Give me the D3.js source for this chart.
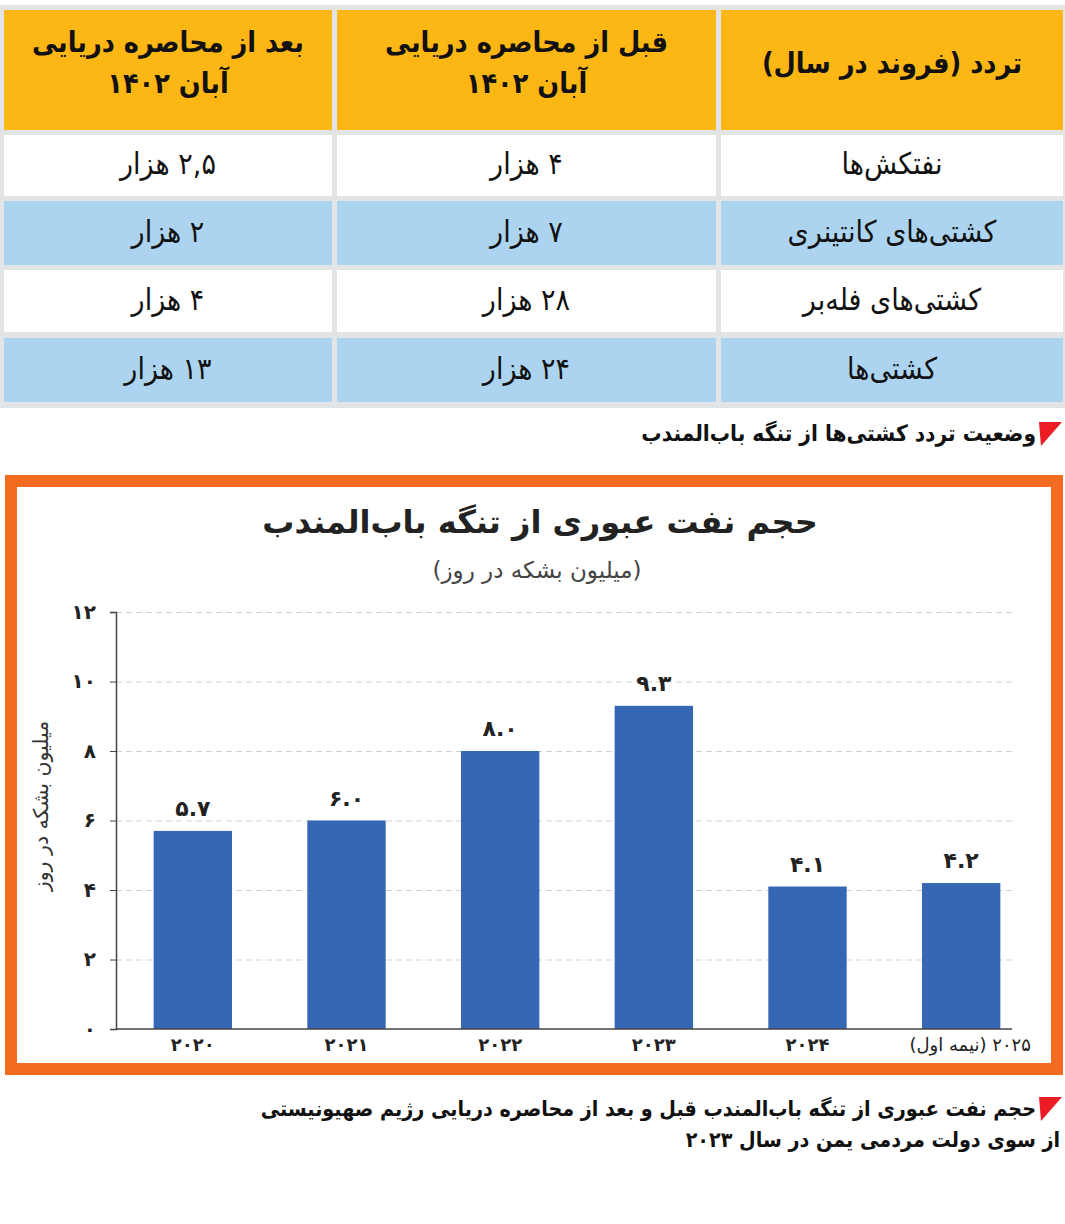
<!DOCTYPE html>
<html lang="fa">
<head>
  <meta charset="UTF-8" />
  <title>تنگه باب‌المندب</title>
  <style>
    body {
      margin: 0;
      background: #fff;
    }
    svg {
      display: block;
    }
    .tbl text {
      font-family: 'DejaVu Sans Condensed', 'DejaVu Sans', sans-serif;
      fill: #111;
    }
    .caption {
      font-family: 'DejaVu Sans Condensed', 'DejaVu Sans', sans-serif;
      font-weight: bold;
      fill: #111;
    }
    .chart text {
      font-family: 'DejaVu Sans', sans-serif;
    }
    .grid line {
      stroke: #d3d3d3;
      stroke-dasharray: 6,4;
    }
    .grid path {
      display: none;
    }
    .axis path, .axis line {
      stroke: #444;
    }
    .axis text {
      fill: #222;
      font-weight: bold;
    }
  </style>
</head>
<body>
  <svg width="1065" height="1224"></svg>

  <script src="https://d3js.org/d3.v7.min.js"></script>
  <script>
    // --- table data
    const headerLines = [
      ["تردد (فروند در سال)"],
      ["قبل از محاصره دریایی", "آبان ۱۴۰۲"],
      ["بعد از محاصره دریایی", "آبان ۱۴۰۲"]
    ];
    const vesselTypes = ["نفتکش‌ها", "کشتی‌های کانتینری", "کشتی‌های فله‌بر", "کشتی‌ها"];
    const beforeSiege = ["۴ هزار", "۷ هزار", "۲۸ هزار", "۲۴ هزار"];
    const afterSiege = ["۲,۵ هزار", "۲ هزار", "۴ هزار", "۱۳ هزار"];
    const tableCaption = "وضعیت تردد کشتی‌ها از تنگه باب‌المندب";

    // --- chart data
    const chartTitle = "حجم نفت عبوری از تنگه باب‌المندب";
    const chartSubtitle = "(میلیون بشکه در روز)";
    const yAxisTitle = "میلیون بشکه در روز";
    const years = ["2020", "2021", "2022", "2023", "2024", "2025"];
    const yearLabels = ["۲۰۲۰", "۲۰۲۱", "۲۰۲۲", "۲۰۲۳", "۲۰۲۴", "۲۰۲۵ (نیمه اول)"];
    const oilFlow = [5.7, 6.0, 8.0, 9.3, 4.1, 4.2];
    const yTicks = [0, 2, 4, 6, 8, 10, 12];
    const bottomCaption = [
      "حجم نفت عبوری از تنگه باب‌المندب قبل و بعد از محاصره دریایی رژیم صهیونیستی",
      "از سوی دولت مردمی یمن در سال ۲۰۲۳"
    ];

    // latin digits -> persian digits
    const fa = s => String(s).replace(/\d/g, d => "۰۱۲۳۴۵۶۷۸۹"[d]);

    const svg = d3.select("svg");

    // ================= table =================
    const tbl = svg.append("g").attr("class", "tbl");
    tbl.append("rect").attr("x", 0).attr("y", 5).attr("width", 1065).attr("height", 403).attr("fill", "#e3e4e6");

    // columns right to left, like the page
    const colX = [[721, 1063], [337, 716], [4, 332]];
    const rowY = [[10, 130], [135, 196], [201, 265], [270, 332], [338, 402]];
    const rowFill = ["#fdb714", "#ffffff", "#acd4f0", "#ffffff", "#acd4f0"];
    const columns = [vesselTypes, beforeSiege, afterSiege];

    rowY.forEach((r, ri) => {
      colX.forEach((c, ci) => {
        tbl.append("rect")
          .attr("x", c[0]).attr("y", r[0])
          .attr("width", c[1] - c[0]).attr("height", r[1] - r[0])
          .attr("fill", rowFill[ri]);
        const cx = (c[0] + c[1]) / 2, cy = (r[0] + r[1]) / 2;
        if (ri === 0) {
          const lines = headerLines[ci];
          lines.forEach((ln, li) => {
            tbl.append("text")
              .attr("x", cx)
              .attr("y", cy - 7 + (li - (lines.length - 1) / 2) * 41)
              .attr("dy", "0.35em")
              .attr("direction", "rtl")
              .attr("text-anchor", "middle")
              .style("font-size", "28.5px").style("font-weight", "bold")
              .text(ln);
          });
        } else {
          tbl.append("text")
            .attr("x", cx).attr("y", cy - 2)
            .attr("dy", "0.35em")
            .attr("direction", "rtl")
            .attr("text-anchor", "middle")
            .style("font-size", "30px")
            .text(columns[ci][ri - 1]);
        }
      });
    });

    // red marker + caption
    function caption(yTop, lines, lineGap, size) {
      svg.append("path")
        .attr("d", `M1039,${yTop} L1062,${yTop} L1041,${yTop + 24} Z`)
        .attr("fill", "#ec1c24");
      lines.forEach((ln, i) => {
        svg.append("text").attr("class", "caption")
          .attr("x", i === 0 ? 1036 : 1060)
          .attr("y", yTop + 19 + i * lineGap)
          .attr("direction", "rtl")
          .attr("text-anchor", "start")
          .style("font-size", size + "px")
          .text(ln);
      });
    }
    caption(422, [tableCaption], 0, 22.5);

    // ================= chart =================
    svg.append("rect")
      .attr("x", 11).attr("y", 481).attr("width", 1046).attr("height", 588)
      .attr("fill", "#fff").attr("stroke", "#f26b21").attr("stroke-width", 12);

    const g = svg.append("g").attr("class", "chart");

    g.append("text")
      .attr("x", 540).attr("y", 533)
      .attr("direction", "rtl").attr("text-anchor", "middle")
      .style("font-size", "32px").style("font-weight", "bold").style("fill", "#222")
      .text(chartTitle);
    g.append("text")
      .attr("x", 537).attr("y", 578)
      .attr("direction", "rtl").attr("text-anchor", "middle")
      .style("font-size", "23px").style("fill", "#444")
      .text(chartSubtitle);

    const plotLeft = 116, plotRight = 1012;
    const x = d3.scaleBand().domain(years).range([116, 1038]).paddingInner(0.49).paddingOuter(0.245);
    const y = d3.scaleLinear().domain([0, 12]).range([1029, 612]);

    // gridlines
    g.append("g").attr("class", "grid")
      .attr("transform", `translate(${plotLeft},0)`)
      .call(d3.axisLeft(y).tickValues(yTicks.filter(t => t > 0)).tickSize(-(plotRight - plotLeft)).tickFormat(""));

    // bars
    g.selectAll(".bar").data(oilFlow)
      .join("rect").attr("class", "bar")
      .attr("x", (d, i) => x(years[i]))
      .attr("y", d => y(d))
      .attr("width", x.bandwidth())
      .attr("height", d => y(0) - y(d))
      .attr("fill", "#3567b5");

    // value labels
    g.selectAll(".val").data(oilFlow)
      .join("text").attr("class", "val")
      .attr("x", (d, i) => x(years[i]) + x.bandwidth() / 2)
      .attr("y", d => y(d) - 15)
      .attr("text-anchor", "middle")
      .style("font-size", "22px").style("font-weight", "bold").style("fill", "#222")
      .text(d => fa(d3.format(".1f")(d)));

    // y axis
    const yAxis = g.append("g").attr("class", "axis")
      .attr("transform", `translate(${plotLeft},0)`)
      .call(d3.axisLeft(y).tickValues(yTicks).tickSize(6).tickPadding(14).tickFormat(fa));
    yAxis.selectAll("text").style("font-size", "20px");
    yAxis.select(".domain").attr("stroke-width", 1.5);

    // x axis
    const xAxis = g.append("g").attr("class", "axis")
      .attr("transform", `translate(0,${y(0)})`)
      .call(d3.axisBottom(x).tickSize(0).tickPadding(9).tickFormat((d, i) => yearLabels[i]));
    xAxis.select(".domain").remove();
    xAxis.append("line")
      .attr("x1", plotLeft).attr("x2", plotRight)
      .attr("stroke", "#444").attr("stroke-width", 1.5);
    xAxis.selectAll("text")
      .attr("direction", "rtl")
      .style("font-size", "18px");
    xAxis.selectAll(".tick").filter((d, i) => i === years.length - 1).select("text")
      .style("font-weight", "normal").attr("dx", 9);

    // y axis title
    g.append("text")
      .attr("transform", "translate(48,806) rotate(-90)")
      .attr("direction", "rtl").attr("text-anchor", "middle")
      .style("font-size", "20.5px").style("fill", "#333")
      .text(yAxisTitle);

    caption(1097, bottomCaption, 31, 21.3);
  </script>
</body>
</html>
